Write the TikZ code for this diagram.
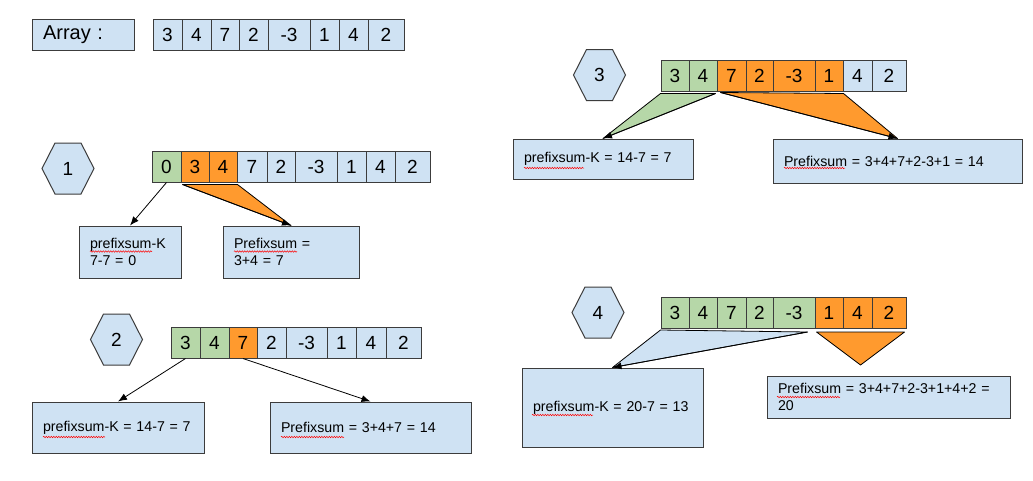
\documentclass[tikz,border=0pt]{standalone}
\usepackage{fontspec}
\setmainfont{Liberation Sans}
\usetikzlibrary{positioning, calc, arrows.meta, decorations.pathmorphing}

\definecolor{cblue}{HTML}{CFE2F3}
\definecolor{cgreen}{HTML}{B6D7A8}
\definecolor{corange}{HTML}{FF9A2E}
\definecolor{cline}{HTML}{3C3C3C}

% one row of array cells: name, top y, list of x0/x1/value/colour
\newcommand{\cellrow}[3]{%
  \foreach \xa/\xb/\v/\col [count=\i] in {#3}
    \node[cell, fill=\col, minimum width={(\xb-\xa)*1pt}] (#1c\i) at ({(\xa+\xb)/2},{#2+15.5}) {\v};
}
% step number in a hexagon: name, centre, label
\newcommand{\hexa}[3]{%
  \draw[hexline] ($(#2)+(-26,0)$) -- ++(13,-25.5) -- ++(26,0) -- ++(13,25.5)
      -- ++(-13,25.5) -- ++(-26,0) -- cycle;
  \node[hexnum] (#1) at (#2) {#3};
}

\begin{document}
\begin{tikzpicture}[x=1pt,y=-1pt,
    cell/.style={draw=cline, line width=1pt, minimum height=31pt, inner sep=0pt,
        font=\fontsize{19}{22}\selectfont},
    box/.style={draw=cline, line width=1pt, fill=cblue, inner xsep=11pt, inner ysep=0pt,
        align=left, font=\fontsize{14.2}{17.5}\selectfont},
    hexline/.style={draw=cline, line width=1pt, fill=cblue},
    hexnum/.style={font=\fontsize{19}{22}\selectfont},
    arr/.style={-{Latex[length=9pt,width=7pt]}, line width=.8pt},
    wedge/.style={draw=black, line width=.8pt, line join=round},
    wavy/.style={red, line width=.5pt, decorate,
        decoration={snake, amplitude=.7pt, segment length=2.5pt}}]

    \useasboundingbox[fill=white] (0,0) rectangle (1033,480);

    % the input array
    \node[box, minimum width=102pt, text width=80pt, minimum height=31pt,
        font=\fontsize{20}{24}\selectfont] (b0) at (83,34.5) {Array :};
    \cellrow{r0}{19}{153/182/3/cblue, 182/211/4/cblue, 211/239/7/cblue, 239/268/2/cblue,
        268/310/-3/cblue, 310/339/1/cblue, 339/368/4/cblue, 368/404/2/cblue}

    % step 1
    \hexa{h1}{68,168.5}{1}
    \cellrow{r1}{151}{152/181/0/cgreen, 181/209/3/corange, 209/237/4/corange, 237/267/7/cblue,
        267/295/2/cblue, 295/337/-3/cblue, 337/366/1/cblue, 366/395/4/cblue, 395/430/2/cblue}
    \node[box, minimum width=102pt, text width=80pt, minimum height=52pt] (b1l) at (130,252)
        {prefixsum-K\\7-7 = 0};
    \node[box, minimum width=136pt, text width=114pt, minimum height=52pt] (b1r) at (291,252)
        {Prefixsum =\\3+4 = 7};
    \draw[arr] (r1c1.south) -- (b1l.north);
    \filldraw[wedge, fill=corange] ([xshift=2pt,yshift=-2pt]r1c2.south west) -- ([yshift=-2pt]r1c3.south east)
        -- (b1r.north) -- cycle;
    \draw[arr] ([xshift=2pt,yshift=-2pt]r1c2.south west) -- (b1r.north);

    % step 2
    \hexa{h2}{116.5,339.5}{2}
    \cellrow{r2}{327}{171/200/3/cgreen, 200/229/4/cgreen, 229/257/7/corange, 257/286/2/cblue,
        286/327/-3/cblue, 327/356/1/cblue, 356/386/4/cblue, 386/421/2/cblue}
    \node[box, minimum width=172pt, text width=150pt, minimum height=51pt] (b2l) at (118,427.5)
        {prefixsum-K = 14-7 = 7};
    \node[box, minimum width=201pt, text width=179pt, minimum height=51pt] (b2r) at (370.5,427.5)
        {Prefixsum = 3+4+7 = 14};
    \draw[arr] (r2c1.south) -- (b2l.north);
    \draw[arr] (r2c3.south) -- (b2r.north);

    % step 3
    \hexa{h3}{599.5,75}{3}
    \cellrow{r3}{60}{661/689/3/cgreen, 689/717/4/cgreen, 717/746/7/corange, 746/773/2/corange,
        773/815/-3/corange, 815/843/1/corange, 843/872/4/cblue, 872/906/2/cblue}
    \node[box, minimum width=180pt, text width=158pt, minimum height=40pt] (b3l) at (603,159)
        {prefixsum-K = 14-7 = 7};
    \node[box, minimum width=249pt, text width=227pt, minimum height=44pt] (b3r) at (897.5,161)
        {Prefixsum = 3+4+7+2-3+1 = 14};
    \filldraw[wedge, fill=cgreen] ([yshift=-2pt]r3c1.south west) -- ([xshift=-2pt,yshift=-2pt]r3c2.south east)
        -- (b3l.north) -- cycle;
    \draw[arr] ([xshift=-2pt,yshift=-2pt]r3c2.south east) -- (b3l.north);
    \filldraw[wedge, fill=corange] ([xshift=4pt,yshift=-1pt]r3c3.south west) -- ([yshift=-2pt]r3c6.south east)
        -- (b3r.north) -- cycle;
    \draw[arr] ([xshift=4pt,yshift=-1pt]r3c3.south west) -- (b3r.north);

    % step 4
    \hexa{h4}{598,312.5}{4}
    \cellrow{r4}{297.5}{661/689/3/cgreen, 689/717/4/cgreen, 717/746/7/cgreen, 746/773/2/cgreen,
        773/815/-3/cgreen, 815/843/1/corange, 843/872/4/corange, 872/906/2/corange}
    \node[box, minimum width=181pt, text width=159pt, minimum height=79pt] (b4l) at (612.5,407.5)
        {prefixsum-K = 20-7 = 13};
    \node[box, minimum width=243pt, text width=221pt, minimum height=42pt] (b4r) at (888.5,397)
        {Prefixsum = 3+4+7+2-3+1+4+2 =\\20};
    \filldraw[wedge, fill=cblue] ([yshift=-1pt]r4c1.south west) -- ([xshift=-8pt,yshift=-3pt]r4c5.south east)
        -- (b4l.north) -- cycle;
    \draw[arr] ([xshift=-8pt,yshift=-3pt]r4c5.south east) -- (b4l.north);
    \coordinate (t4) at ($(r4c6.south west)!.5!(r4c8.south east)+(0,36)$);
    \filldraw[wedge, fill=corange] ([xshift=2pt,yshift=-3pt]r4c6.south west)
        -- ([xshift=-2pt,yshift=-3pt]r4c8.south east) -- (t4) -- cycle;

    % spell-check marks
    \draw[wavy] (90,251.5) -- (152,251.5);
    \draw[wavy] (234,251.5) -- (297,251.5);
    \draw[wavy] (43,437) -- (105,437);
    \draw[wavy] (281,437) -- (344,437);
    \draw[wavy] (524,168) -- (584,168);
    \draw[wavy] (784,168) -- (845,168);
    \draw[wavy] (532,415) -- (593,415);
    \draw[wavy] (777,397) -- (840,397);
\end{tikzpicture}
\end{document}
